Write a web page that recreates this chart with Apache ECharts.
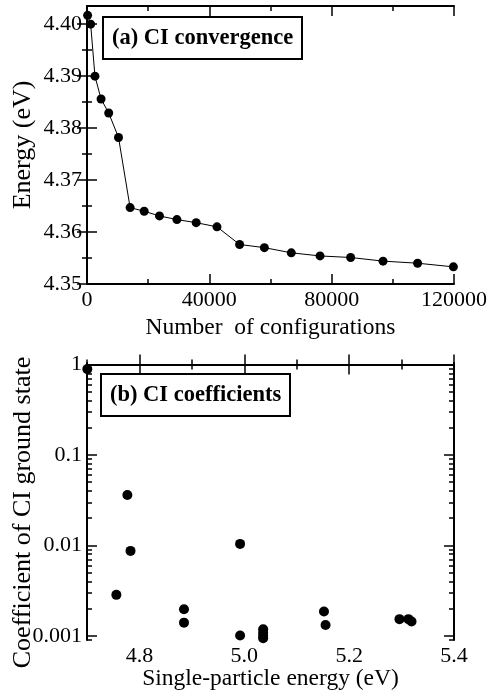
<!DOCTYPE html>
<html>
<head>
<meta charset="utf-8">
<script src="https://cdn.jsdelivr.net/npm/echarts@6/dist/echarts.min.js"></script>
<style>
  html, body { margin: 0; padding: 0; background: #fff; }
  #chart { width: 491px; height: 698px; }
</style>
</head>
<body>
<div id="chart"></div>
<script>
// (a) CI convergence
const configCount = [200, 1200, 2600, 4600, 7100, 10300, 14100, 18700, 23700, 29400, 35700, 42500, 49900, 58000, 66800, 76200, 86200, 96800, 108100, 119800]
const ciEnergy = [4.4017, 4.4000, 4.3900, 4.3856, 4.3829, 4.3782, 4.3647, 4.3640, 4.3631, 4.3624, 4.3618, 4.3610, 4.3576, 4.3570, 4.3560, 4.3554, 4.3551, 4.3544, 4.3540, 4.3533]
const configMajorTicks = [0, 40000, 80000, 120000]
const configMinorTicks = [20000, 60000, 100000]
const energyMajorTicks = [4.35, 4.36, 4.37, 4.38, 4.39, 4.40]
const energyMinorTicks = [4.355, 4.365, 4.375, 4.385, 4.395]

// (b) CI coefficients
const spEnergy = [4.7006, 4.777, 4.783, 4.756, 4.885, 4.885, 4.992, 4.992, 5.036, 5.036, 5.036, 5.036, 5.152, 5.155, 5.296, 5.313, 5.319]
const ciCoeff = [0.89, 0.0361, 0.0087, 0.00284, 0.00197, 0.00140, 0.0104, 0.00101, 0.00118, 0.00108, 0.00100, 0.00094, 0.00186, 0.00132, 0.00153, 0.00153, 0.00144]
const spMajorTicks = [4.8, 5.0, 5.2, 5.4]
const spMinorTicks = [4.7, 4.9, 5.1, 5.3]
const coeffDecades = [0.001, 0.01, 0.1, 1]

const font = 'Liberation Serif'
const black = '#000'

// log10 decades, minor ticks at 2..9 of each decade
const decadeExp = coeffDecades.map((v) => Math.log10(v))
const minorExp = []
for (let e = -4; e <= 0; e++) {
  for (let k = 2; k <= 9; k++) minorExp.push(Math.log10(k) + e)
}

// four axes per pair of sides: main (labels + major ticks), minor ticks, mirror major, mirror minor
function makeAxes(dim, gridIndex, min, max, major, minor, fmt, name, nameGap, nameSize, namePad) {
  const sides = dim === 'x' ? ['bottom', 'top'] : ['left', 'right']
  const base = { type: 'value', gridIndex, min, max, splitLine: { show: false } }
  const list = []
  sides.forEach((pos, s) => {
    ;[major, minor].forEach((ticks, m) => {
      const inRange = ticks.filter((t) => t >= min - 1e-9 && t <= max + 1e-9)
      list.push({
        ...base,
        position: pos,
        name: s === 0 && m === 0 ? name : '',
        nameLocation: 'middle',
        nameGap,
        nameMoveOverlap: false,
        nameTextStyle: { fontFamily: font, fontSize: nameSize, color: black, padding: namePad || 0 },
        axisLine: { show: m === 0, lineStyle: { color: black, width: 2 } },
        axisTick: {
          show: true,
          inside: true,
          length: m === 0 ? 10 : 5,
          customValues: inRange,
          lineStyle: { color: black, width: 1.5 },
        },
        axisLabel: {
          show: s === 0 && m === 0,
          customValues: inRange,
          formatter: fmt,
          fontFamily: font,
          fontSize: 22,
          color: black,
          margin: 5,
        },
      })
    })
  })
  return list
}

const xAxis = [
  ...makeAxes('x', 0, 0, 120000, configMajorTicks, configMinorTicks, (v) => String(v), 'Number  of configurations', 32, 23.5),
  ...makeAxes('x', 1, 4.7, 5.4, spMajorTicks, spMinorTicks, (v) => v.toFixed(1), 'Single-particle energy (eV)', 27, 23.5),
]
const yAxis = [
  ...makeAxes('y', 0, 4.35, 4.4035, energyMajorTicks, energyMinorTicks, (v) => v.toFixed(2), 'Energy (eV)', 51, 26),
  ...makeAxes('y', 1, Math.log10(0.0009), Math.log10(1.04), decadeExp, minorExp, (v) => String(Number(Math.pow(10, v).toPrecision(1))), 'Coefficient of CI ground state', 51, 26, [0, 22, 0, 0]),
]

const boxText = { fontFamily: font, fontWeight: 'bold', fontSize: 22.5, color: black }

const option = {
  animation: false,
  backgroundColor: '#fff',
  textStyle: { fontFamily: font },
  title: [
    {
      text: '(a) CI convergence',
      left: 103,
      top: 17,
      padding: [10, 9, 9, 9],
      borderColor: black,
      borderWidth: 2,
      textStyle: boxText,
    },
    {
      text: '(b) CI coefficients',
      left: 101,
      top: 374,
      padding: [10, 9, 9, 9],
      borderColor: black,
      borderWidth: 2,
      textStyle: boxText,
    },
  ],
  grid: [
    { left: 87, right: 37, top: 6, height: 278, outerBoundsMode: 'none' },
    { left: 87, right: 37, top: 363, height: 277, outerBoundsMode: 'none' },
  ],
  xAxis,
  yAxis,
  series: [
    {
      type: 'line',
      xAxisIndex: 0,
      yAxisIndex: 0,
      data: configCount.map((x, i) => [x, ciEnergy[i]]),
      symbol: 'circle',
      symbolSize: 9,
      itemStyle: { color: black, opacity: 1 },
      lineStyle: { color: black, width: 1 },
      clip: false,
    },
    {
      type: 'scatter',
      xAxisIndex: 4,
      yAxisIndex: 4,
      data: spEnergy.map((x, i) => [x, Math.log10(ciCoeff[i])]),
      symbol: 'circle',
      symbolSize: 10,
      itemStyle: { color: black, opacity: 1 },
      clip: false,
    },
  ],
}

const chart = echarts.init(document.getElementById('chart'))
chart.setOption(option)
</script>
</body>
</html>
